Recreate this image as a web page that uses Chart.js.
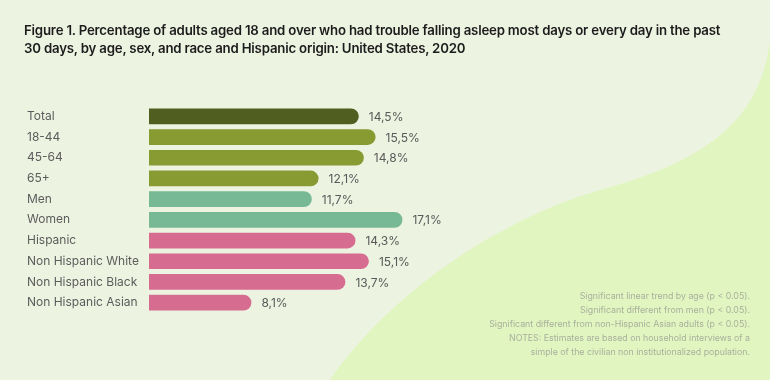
<!DOCTYPE html>
<html>
<head>
<meta charset="utf-8">
<script src="https://cdn.jsdelivr.net/npm/chart.js@4.4.1/dist/chart.umd.min.js"></script>
<style>
  html, body { margin: 0; padding: 0; background: #edf3e1; }
  #wrap { position: relative; width: 770px; height: 380px; overflow: hidden; }
  #chart { position: absolute; left: 0; top: 0; }
  #title {
    position: absolute; left: 24px; top: 21px; width: 730px;
    font-family: Inter, "Noto Sans", sans-serif; font-weight: 600;
    font-size: 13.25px; line-height: 18px; color: #1c1c1c; letter-spacing: -0.2px;
  }
  #notes {
    position: absolute; right: 20px; top: 289px; text-align: right;
    font-family: Inter, "Noto Sans", sans-serif; font-size: 8.8px;
    line-height: 14px; color: #a9b09c;
  }
</style>
</head>
<body>
<div id="wrap">
  <canvas id="chart" width="770" height="380"></canvas>
  <div id="title">Figure 1. Percentage of adults aged 18 and over who had trouble falling asleep most days or every day in the past<br>30 days, by age, sex, and race and Hispanic origin: United States, 2020</div>
  <div id="notes">
    Significant linear trend by age (p &lt; 0.05).<br>
    Significant different from men (p &lt; 0.05).<br>
    Significant different from non-Hispanic Asian adults (p &lt; 0.05).<br>
    NOTES: Estimates are based on household interviews of a<br>
    simple of the civilian non institutionalized population.
  </div>
</div>
<script>
// data
const categories = ['Total', '18-44', '45-64', '65+', 'Men', 'Women', 'Hispanic', 'Non Hispanic White', 'Non Hispanic Black', 'Non Hispanic Asian'];
const values = [14.5, 15.5, 14.8, 12.1, 11.7, 17.1, 14.3, 15.1, 13.7, 8.1];
const groups = ['total', 'age', 'age', 'age', 'sex', 'sex', 'race', 'race', 'race', 'race'];

const groupColors = {
    total: '#505f1f',
    age: '#889b33',
    sex: '#77b995',
    race: '#d76c91'
};

// lighter lime wave in the lower right corner
const backdrop = {
    id: 'backdrop',
    beforeDraw(chart) {
        const ctx = chart.ctx;
        ctx.save();
        ctx.fillStyle = '#edf3e1';
        ctx.fillRect(0, 0, chart.width, chart.height);
        ctx.fillStyle = '#e1f5c0';
        ctx.beginPath();
        ctx.moveTo(770, 40);
        ctx.bezierCurveTo(760, 130, 690, 165, 600, 190);
        ctx.bezierCurveTo(490, 222, 385, 300, 330, 380);
        ctx.lineTo(770, 380);
        ctx.closePath();
        ctx.fill();
        ctx.restore();
    }
};

// "14,5%" labels at the end of each bar
const valueLabels = {
    id: 'valueLabels',
    afterDatasetsDraw(chart) {
        const ctx = chart.ctx;
        const meta = chart.getDatasetMeta(0);
        ctx.save();
        ctx.font = '12px Inter, "Noto Sans", sans-serif';
        ctx.fillStyle = '#595959';
        ctx.textBaseline = 'middle';
        meta.data.forEach((bar, i) => {
            const txt = values[i].toFixed(1).replace('.', ',') + '%';
            ctx.fillText(txt, bar.x + 10, bar.y + 1);
        });
        ctx.restore();
    }
};

new Chart(document.getElementById('chart'), {
    type: 'bar',
    data: {
        labels: categories,
        datasets: [{
            data: values,
            backgroundColor: groups.map(g => groupColors[g]),
            borderRadius: 8,
            barPercentage: 0.76,
            categoryPercentage: 1
        }]
    },
    options: {
        indexAxis: 'y',
        responsive: false,
        animation: false,
        layout: {
            padding: { left: 27, right: 151, top: 106, bottom: 67 }
        },
        plugins: {
            legend: { display: false },
            tooltip: { enabled: false }
        },
        scales: {
            x: { display: false, min: 2, max: 30 },
            y: {
                grid: { display: false },
                border: { display: false },
                afterFit(scale) { scale.width = 122; },
                ticks: {
                    crossAlign: 'far',
                    padding: 0,
                    color: '#5c5c5c',
                    font: { family: 'Inter, "Noto Sans", sans-serif', size: 12 }
                }
            }
        }
    },
    plugins: [backdrop, valueLabels]
});
</script>
</body>
</html>
